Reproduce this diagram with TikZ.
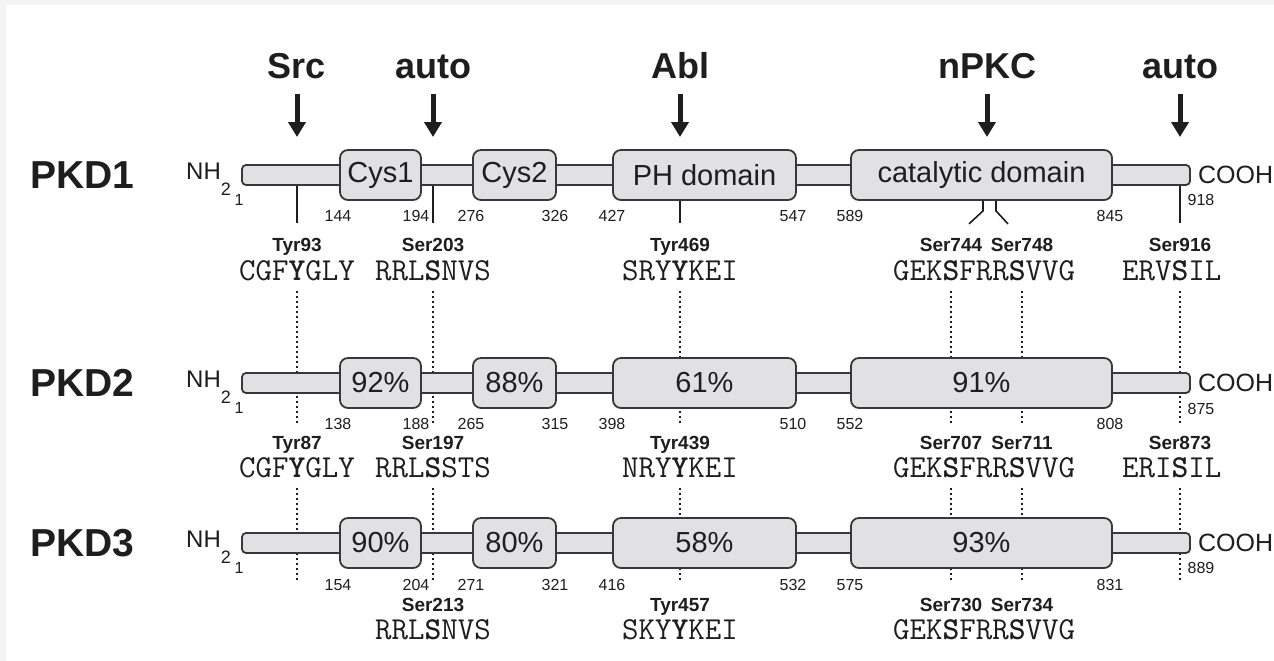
\documentclass[tikz,border=0pt]{standalone}
\usepackage{fontspec}
\setmainfont{Liberation Sans}
\usepackage{tikz}
\usetikzlibrary{arrows.meta,positioning}

\definecolor{ink}{HTML}{1E1E1E}
\definecolor{boxfill}{HTML}{E1E1E3}
\definecolor{edge}{HTML}{383838}
\definecolor{bggray}{HTML}{F4F4F4}

\newcommand{\pxsize}[1]{\fontsize{#1}{#1}\selectfont}
\newcommand{\resid}[3]{\llap{#1}\textbf{#2}\rlap{#3}}

\tikzstyle{Bar} = [draw=edge, fill=boxfill, line width=1.8pt, rounded corners=4pt, minimum width=948pt, minimum height=20pt, inner sep=0pt]
\tikzstyle{Domain} = [draw=edge, fill=boxfill, line width=1.8pt, rounded corners=8pt, minimum height=50pt, inner sep=0pt, text=ink, font=\pxsize{29}]
\tikzstyle{Num} = [anchor=base, inner sep=0pt, text=ink, font=\pxsize{16}]
\tikzstyle{Site} = [anchor=base, inner sep=0pt, text=ink, font=\pxsize{19}\bfseries]
\tikzstyle{Seq} = [anchor=base, inner sep=0pt, text=ink, font=\pxsize{32}\ttfamily]
\tikzstyle{Kinase} = [anchor=base, inner sep=0pt, text=ink, font=\pxsize{36}\bfseries]
\tikzstyle{Iso} = [anchor=base west, inner sep=0pt, text=ink, font=\pxsize{39}\bfseries]
\tikzstyle{Term} = [anchor=base west, inner sep=0pt, text=ink, font=\pxsize{24}]
\tikzstyle{SiteLine} = [draw=ink, line width=1.6pt]
\tikzstyle{Dots} = [draw=ink, line width=2.8pt, dash pattern=on 2.6pt off 2.4pt, shorten <=10pt]
\tikzstyle{KinArrow} = [draw=ink, line width=5pt, -{Triangle[length=15pt,width=17pt]}]

\begin{document}
\begin{tikzpicture}[x=1pt,y=-1pt]
  % canvas
  \fill[bggray] (0,0) rectangle (1274,661);
  \fill[white] (6,5) rectangle (1274,661);
  \useasboundingbox (0,0) rectangle (1274,661);

  % PKD1 sites
  \node[Site] (t93)  at (297,251)  {Tyr93};
  \node[Site] (s203) at (433,251)  {Ser203};
  \node[Site] (t469) at (680,251)  {Tyr469};
  \node[Site] (s744) at (951,251)  {Ser744};
  \node[Site] (s748) at (1022,251) {Ser748};
  \node[Site] (s916) at (1180,251) {Ser916};
  \node[Seq] (q93)  at (297,280)  {\resid{CGF}{Y}{GLY}};
  \node[Seq] (q203) at (433,280)  {\resid{RRL}{S}{NVS}};
  \node[Seq] (q469) at (680,280)  {\resid{SRY}{Y}{KEI}};
  \node[Seq] (q744) at (951,280)  {\resid{GEK}{S}{FRR\textbf{S}VVG}};
  \node[Seq] (q916) at (1180,280) {\resid{ERV}{S}{IL}};

  % PKD2 sites
  \node[Site] (t87)  at (297,449)  {Tyr87};
  \node[Site] (s197) at (433,449)  {Ser197};
  \node[Site] (t439) at (680,449)  {Tyr439};
  \node[Site] (s707) at (951,449)  {Ser707};
  \node[Site] (s711) at (1022,449) {Ser711};
  \node[Site] (s873) at (1180,449) {Ser873};
  \node[Seq] (q87)  at (297,477)  {\resid{CGF}{Y}{GLY}};
  \node[Seq] (q197) at (433,477)  {\resid{RRL}{S}{STS}};
  \node[Seq] (q439) at (680,477)  {\resid{NRY}{Y}{KEI}};
  \node[Seq] (q707) at (951,477)  {\resid{GEK}{S}{FRR\textbf{S}VVG}};
  \node[Seq] (q873) at (1180,477) {\resid{ERI}{S}{IL}};

  % PKD3 sites
  \node[Site] (s213) at (433,611)  {Ser213};
  \node[Site] (t457) at (680,611)  {Tyr457};
  \node[Site] (s730) at (951,611)  {Ser730};
  \node[Site] (s734) at (1022,611) {Ser734};
  \node[Seq] (q213) at (433,639)  {\resid{RRL}{S}{NVS}};
  \node[Seq] (q457) at (680,639)  {\resid{SKY}{Y}{KEI}};
  \node[Seq] (q730) at (951,639)  {\resid{GEK}{S}{FRR\textbf{S}VVG}};
  \coordinate (e87)  at (297,580);
  \coordinate (e873) at (1180,580);

  % conserved sites
  \draw[Dots, shorten >=12pt] (q93) -- (t87.north);
  \draw[Dots, shorten >=12pt] (q203) -- (s197.north);
  \draw[Dots, shorten >=12pt] (q469) -- (t439.north);
  \draw[Dots, shorten >=12pt] (q744) -- (s707.north);
  \draw[Dots, shorten >=12pt] (s748 |- q744.south) -- (s711.north);
  \draw[Dots, shorten >=12pt] (q916) -- (s873.north);
  \draw[Dots] (q87) -- (e87);
  \draw[Dots, shorten >=18pt] (q197) -- (s213.north);
  \draw[Dots, shorten >=18pt] (q439) -- (t457.north);
  \draw[Dots, shorten >=18pt] (q707) -- (s730.north);
  \draw[Dots, shorten >=18pt] (s711 |- q707.south) -- (s734.north);
  \draw[Dots] (q873) -- (e873);

  % proteins
  \foreach \r/\y/\da/\db/\dc/\dd in {1/175/Cys1/Cys2/PH domain/catalytic domain,
      2/383/92\%/88\%/61\%/91\%, 3/543/90\%/80\%/58\%/93\%} {
    \node[Bar] (bar\r) at (716,\y) {};
    \node[Domain, minimum width=81pt]  (cysa\r) at (380.5,\y) {\da};
    \node[Domain, minimum width=83pt]  (cysb\r) at (514.5,\y) {\db};
    \node[Domain, minimum width=183pt] (ph\r)   at (704.5,\y) {\dc};
    \node[Domain, minimum width=261pt] (cat\r)  at (981.5,\y) {\dd};
    \node[Iso] (pkd\r) at (30,\y+13) {PKD\r};
    \node[Term] (nh\r) at (186,\y+4) {NH\raisebox{-16pt}{\pxsize{18}2}};
    \node[Term, anchor=west, font=\pxsize{25}, right=7pt of bar\r.east] (cooh\r) {COOH};
    \node[Num] (first\r) at (239,\y+30) {1};
  }

  % PKD1 phosphosites
  \draw[SiteLine] (t93 |- bar1.south) -- ([yshift=15pt]t93.north);
  \draw[SiteLine] (s203 |- bar1.south) -- ([yshift=15pt]s203.north);
  \draw[SiteLine] (t469 |- ph1.south) -- ([yshift=15pt]t469.north);
  \draw[SiteLine] (s916 |- bar1.south) -- ([yshift=15pt]s916.north);
  \draw[SiteLine] ([xshift=1.5pt]cat1.south) -- ++(0,10) -- ++(-14,13);
  \draw[SiteLine] ([xshift=14.5pt]cat1.south) -- ++(0,10) -- ++(12,13);

  % residue numbers
  \foreach \v/\x in {144/338,194/416,276/471,326/555,427/612,547/793,589/850,845/1110}
    \node[Num] (n\v) at (\x,221) {\v};
  \foreach \v/\x in {138/338,188/416,265/471,315/555,398/612,510/793,552/850,808/1110}
    \node[Num] (n\v) at (\x,429) {\v};
  \foreach \v/\x in {154/338,204/416,271/471,321/555,416/612,532/793,575/850,831/1110}
    \node[Num] (n\v) at (\x,590) {\v};
  \node[Num] (n918) at (1201,205) {918};
  \node[Num] (n875) at (1201,414) {875};
  \node[Num] (n889) at (1201,573) {889};

  % kinases
  \foreach \n/\x/\t in {src/297/Src, autoa/433/auto, abl/680/Abl, npkc/987/nPKC, autob/1180/auto} {
    \node[Kinase] (k\n) at (\x,78) {\t};
    \coordinate (tip\n) at (\x,137);
    \draw[KinArrow] ([yshift=-15pt]k\n.south) -- (tip\n);
  }
\end{tikzpicture}
\end{document}
